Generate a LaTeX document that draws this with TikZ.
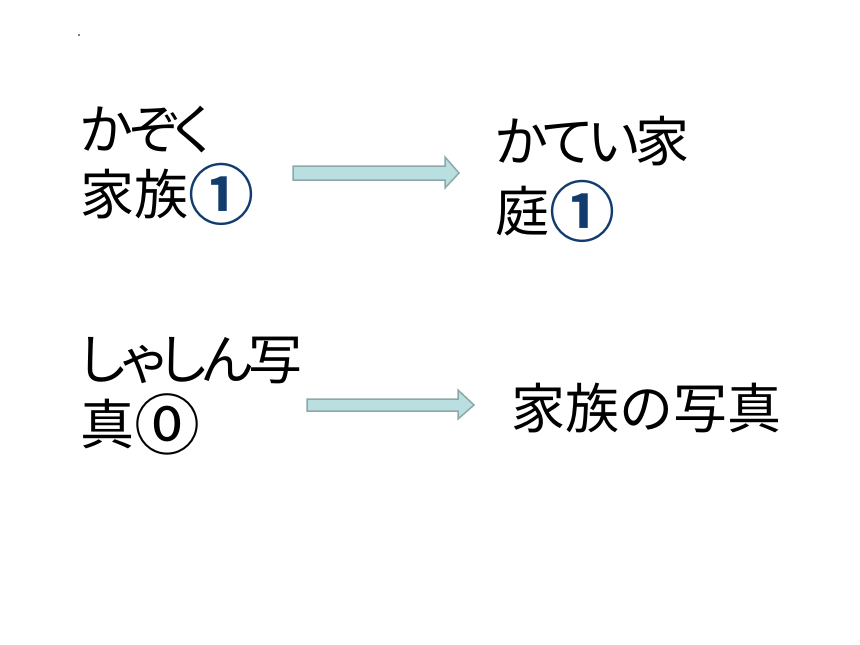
\documentclass[tikz,border=0pt]{standalone}
\usepackage{fontspec}
\setmainfont{Noto Sans CJK JP}
\newfontfamily\kanafont[RawFeature=+palt, LetterSpace=-8]{Noto Sans CJK JP}
\newfontfamily\jpbold{Noto Sans CJK JP Bold}
\usepackage{xcolor}
\usepackage{tikz}
\usetikzlibrary{positioning}
\definecolor{numblue}{HTML}{133C6E}
\definecolor{arrowfill}{HTML}{B9DFE1}
\definecolor{arrowline}{HTML}{8EA8AA}
\tikzset{
    wordbox/.style={anchor=base west, inner sep=0pt, align=left, font=\fontsize{54}{65}\selectfont},
    blockarrow/.style={draw=arrowline, fill=arrowfill, line width=1.5pt, line join=miter}}
\newcommand{\bluenum}[1]{\raisebox{-5pt}{\jpbold\fontsize{66}{66}\selectfont\color{numblue}#1}}
\newcommand{\blacknum}[1]{\raisebox{-5pt}{\fontsize{66}{66}\selectfont#1}}
\begin{document}
\begin{tikzpicture}[x=1pt,y=-1pt]
\useasboundingbox (0,0) rectangle (860,645);
\fill[gray] (78,34) rectangle (80,36);

\node[wordbox] (kazoku) at (80,214) {{\kanafont かぞく}\\家族\bluenum{①}};
\node[wordbox, font=\fontsize{54}{70}\selectfont] (katei) at (495,231) {{\kanafont かてい家}\\庭\bluenum{①}};
\node[wordbox] (shashin) at (80,444) {{\kanafont しゃしん写}\\真\blacknum{⓪}};
\node[wordbox] (photo) at (511,428) {家族の写真};

% block arrows
\draw[blockarrow] (293,166) -- (445,166) -- (445,157) -- (459,173) -- (445,188) -- (445,180) -- (293,180) -- cycle;
\draw[blockarrow] (307,399) -- (458,399) -- (458,390) -- (474,405) -- (458,419) -- (458,411) -- (307,411) -- cycle;
\end{tikzpicture}
\end{document}
